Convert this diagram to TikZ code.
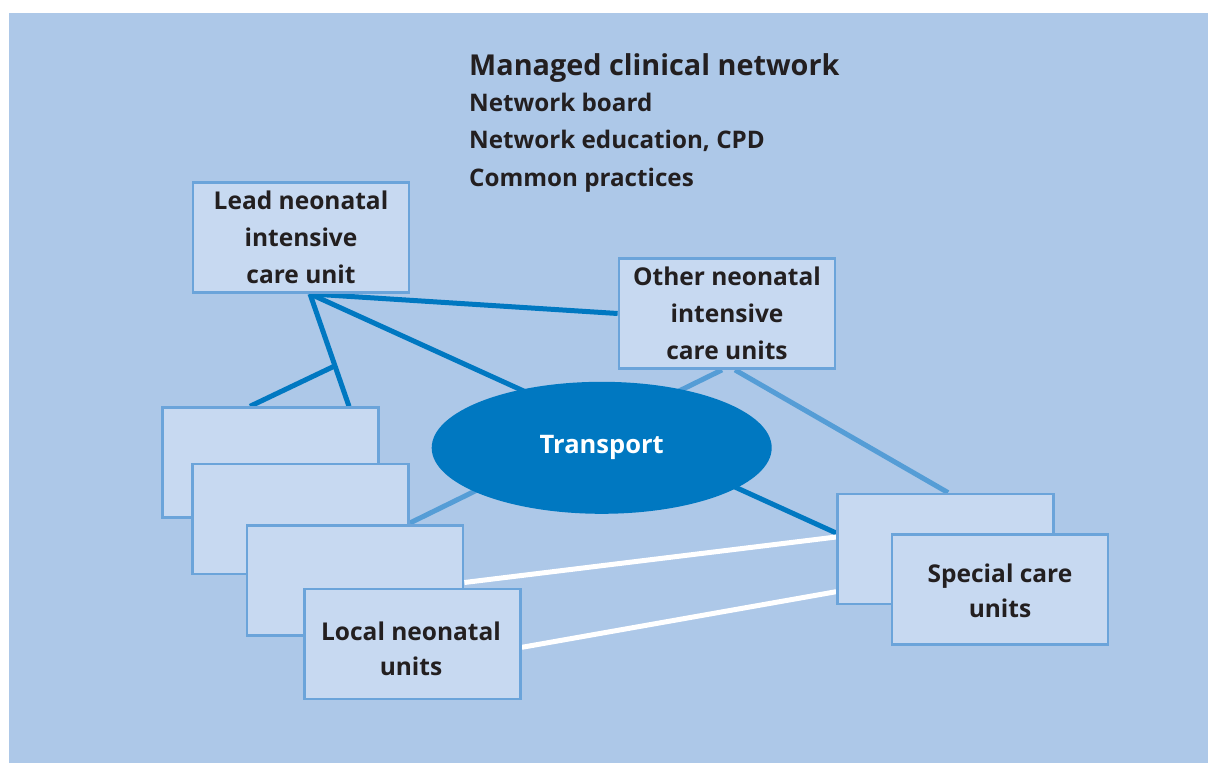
\documentclass[tikz,border=0pt]{standalone}
\usepackage{fontspec}
\setmainfont{Open Sans}
\usetikzlibrary{calc,shapes.geometric}
\definecolor{bgblue}{HTML}{ADC8E8}
\definecolor{boxfill}{HTML}{C7D9F1}
\definecolor{boxdraw}{HTML}{6BA4DA}
\definecolor{darkblue}{HTML}{0078C1}
\definecolor{lightblue}{HTML}{559DD6}
\definecolor{txt}{HTML}{231F20}
\pgfdeclarelayer{back}
\pgfdeclarelayer{lines}
\pgfsetlayers{back,lines,main}
\tikzset{
  unitbox/.style={draw=boxdraw, line width=2.8pt, fill=boxfill, minimum width=216pt, minimum height=110pt, inner sep=0pt, align=center, text=txt, font=\bfseries\fontsize{24.5}{37}\selectfont},
  twoline/.style={font=\bfseries\fontsize{24.5}{34.5}\selectfont},
  titletext/.style={anchor=base west, inner sep=0pt, text=txt, font=\bfseries\fontsize{28.8}{34}\selectfont},
  subtext/.style={anchor=base west, inner sep=0pt, text=txt, font=\bfseries\fontsize{24.2}{30}\selectfont},
  darkline/.style={draw=darkblue, line width=5pt},
  lightline/.style={draw=lightblue, line width=5pt},
  whiteline/.style={draw=white, line width=5pt},
}
\begin{document}
\begin{tikzpicture}[x=1pt,y=-1pt]
\useasboundingbox (0,0) rectangle (1208,763);
\begin{pgfonlayer}{back}
\fill[white] (0,0) rectangle (1208,763);
\fill[bgblue] (9,13) rectangle (1208,763);
\end{pgfonlayer}

\node[titletext] (title) at (469,75.5) {Managed clinical network};
\node[subtext] (board) at (469,111.7) {Network board};
\node[subtext] (edu) at (469,148.3) {Network education, CPD};
\node[subtext] (common) at (469,186.7) {Common practices};

\node[unitbox] (lead) at (301,237.5) {Lead neonatal\\intensive\\care unit};
\node[unitbox] (other) at (727,313.5) {Other neonatal\\intensive\\care units};

\node[unitbox] (loc1) at (270.5,462.7) {};
\node[unitbox] (loc2) at (300.5,519) {};
\node[unitbox] (loc3) at (355,580.5) {};
\node[unitbox] (loc4) at (412.5,644) {};
\node[twoline, text=txt, align=center, inner sep=0pt, anchor=base] (loctext) at (411,675) {Local neonatal\\units};

\node[unitbox] (spb) at (945.5,549) {};
\node[unitbox] (spf) at (1000,589.5) {};
\node[twoline, text=txt, align=center, inner sep=0pt, anchor=base] (sptext) at (1000,617) {Special care\\units};

\node[ellipse, fill=darkblue, minimum width=340pt, minimum height=132pt, inner sep=0pt, text=white, font=\bfseries\fontsize{25.5}{30}\selectfont] (transport) at (601.7,447.8) {Transport};

\coordinate (lb) at ([xshift=9pt]lead.south);
\coordinate (l1a) at ([xshift=78.5pt]loc1.north);
\coordinate (l1b) at ([xshift=-20.5pt]loc1.north);
\coordinate (br) at ($(lb)!0.64!(l1a)$);

\begin{pgfonlayer}{lines}
\draw[darkline] (lb) -- (other.west);
\draw[darkline] (lb) -- ([yshift=16pt]spb.west);
\draw[darkline] (lb) -- (l1a);
\draw[darkline] (br) -- (l1b);
\draw[lightline] ([yshift=-4pt]loc2.east) -- ([xshift=-5pt]other.south);
\draw[lightline] ([xshift=8pt]other.south) -- ([xshift=2.5pt]spb.north);
\draw[whiteline] ([yshift=-2pt]loc3.east) -- ([yshift=12pt]spb.west);
\draw[whiteline] ([yshift=-3.3pt]loc4.east) -- ([yshift=-42.7pt]spb.west);
\end{pgfonlayer}
\end{tikzpicture}
\end{document}
